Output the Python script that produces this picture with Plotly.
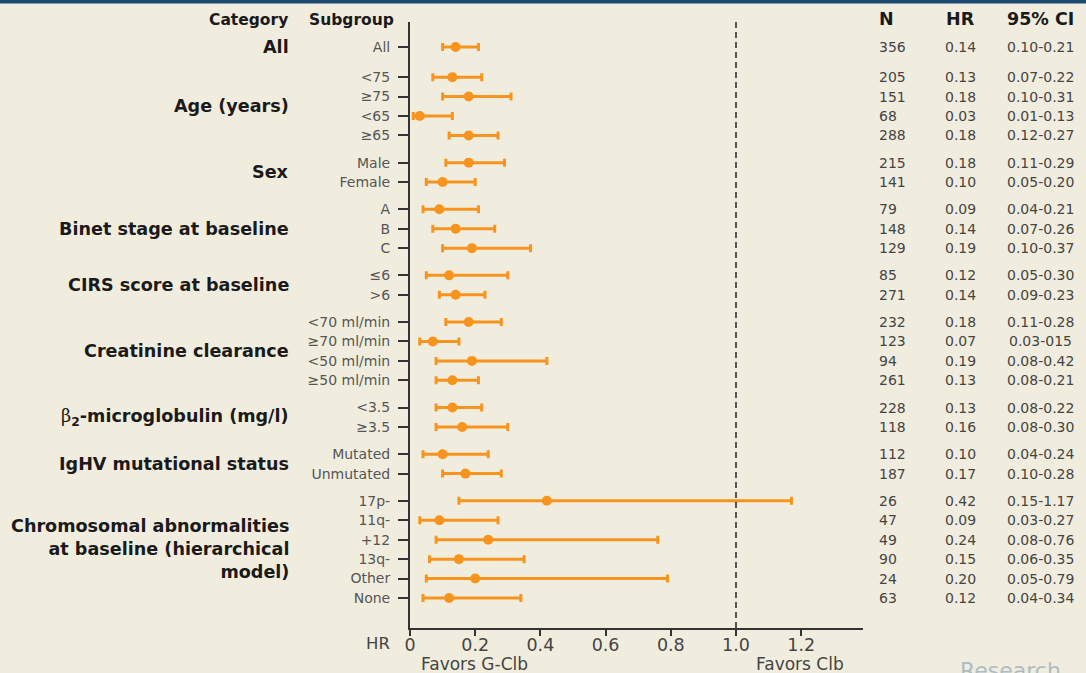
import plotly.graph_objects as go

# ---------------- data ----------------
categories = ["All", "Age (years)", "Sex", "Binet stage at baseline", "CIRS score at baseline",
              "Creatinine clearance", "β2-microglobulin (mg/l)", "IgHV mutational status",
              "Chromosomal abnormalities at baseline (hierarchical model)"]
category_labels = ["All", "Age (years)", "Sex", "Binet stage at baseline", "CIRS score at baseline",
                   "Creatinine clearance",
                   "<span style='font-family:DejaVu Serif;font-weight:normal'>β</span><sub>2</sub>-microglobulin (mg/l)",
                   "IgHV mutational status",
                   "Chromosomal abnormalities<br>at baseline (hierarchical<br>model)"]
group_sizes = [1, 4, 2, 3, 2, 4, 2, 2, 6]
subgroups = ["All",
             "<75", "≥75", "<65", "≥65",
             "Male", "Female",
             "A", "B", "C",
             "≤6", ">6",
             "<70 ml/min", "≥70 ml/min", "<50 ml/min", "≥50 ml/min",
             "<3.5", "≥3.5",
             "Mutated", "Unmutated",
             "17p-", "11q-", "+12", "13q-", "Other", "None"]
n_values = [356, 205, 151, 68, 288, 215, 141, 79, 148, 129, 85, 271,
            232, 123, 94, 261, 228, 118, 112, 187, 26, 47, 49, 90, 24, 63]
hr_values = [0.14, 0.13, 0.18, 0.03, 0.18, 0.18, 0.10, 0.09, 0.14, 0.19, 0.12, 0.14,
             0.18, 0.07, 0.19, 0.13, 0.13, 0.16, 0.10, 0.17, 0.42, 0.09, 0.24, 0.15, 0.20, 0.12]
ci_low = [0.10, 0.07, 0.10, 0.01, 0.12, 0.11, 0.05, 0.04, 0.07, 0.10, 0.05, 0.09,
          0.11, 0.03, 0.08, 0.08, 0.08, 0.08, 0.04, 0.10, 0.15, 0.03, 0.08, 0.06, 0.05, 0.04]
ci_high = [0.21, 0.22, 0.31, 0.13, 0.27, 0.29, 0.20, 0.21, 0.26, 0.37, 0.30, 0.23,
           0.28, 0.15, 0.42, 0.21, 0.22, 0.30, 0.24, 0.28, 1.17, 0.27, 0.76, 0.35, 0.79, 0.34]
ci_labels = ["0.10-0.21", "0.07-0.22", "0.10-0.31", "0.01-0.13", "0.12-0.27", "0.11-0.29",
             "0.05-0.20", "0.04-0.21", "0.07-0.26", "0.10-0.37", "0.05-0.30", "0.09-0.23",
             "0.11-0.28", "0.03-015", "0.08-0.42", "0.08-0.21", "0.08-0.22", "0.08-0.30",
             "0.04-0.24", "0.10-0.28", "0.15-1.17", "0.03-0.27", "0.08-0.76", "0.06-0.35",
             "0.05-0.79", "0.04-0.34"]
x_ticks = [0, 0.2, 0.4, 0.6, 0.8, 1.0, 1.2]
x_tick_labels = ["0", "0.2", "0.4", "0.6", "0.8", "1.0", "1.2"]

# ---------------- layout helpers ----------------
W, H = 1086, 673
L, R, T, B = 410, 223, 22, 45
PW, PH = W - L - R, H - T - B


def px(xp):
    return (xp - L) / PW


def py(yp):
    return (H - B - yp) / PH


# row positions (units of one row), with gaps between groups
rows = []
pos = 0.0
group_centers = []
for gi, size in enumerate(group_sizes):
    if gi == 1:
        pos += 0.55
    elif gi > 1:
        pos += 0.4
    start = pos
    for k in range(size):
        rows.append(pos)
        pos += 1
    group_centers.append((start + pos - 1) / 2)

unit = (598 - 47) / rows[-1]
y_top = (T - 47) / unit
y_bot = (H - B - 47) / unit

ORANGE = "#F7941E"
fig = go.Figure()
fig.add_trace(go.Scatter(
    x=hr_values, y=rows, mode="markers",
    marker=dict(color=ORANGE, size=10),
    error_x=dict(type="data", symmetric=False,
                 array=[h - m for h, m in zip(ci_high, hr_values)],
                 arrayminus=[m - l for m, l in zip(hr_values, ci_low)],
                 color=ORANGE, thickness=3, width=4),
    cliponaxis=False, showlegend=False, hoverinfo="skip"))

annotations = []
FONT = "DejaVu Sans"
# headers
annotations.append(dict(text="<b>Category</b>", x=px(290), y=py(20), xref="paper", yref="paper",
                        xanchor="right", yanchor="middle", showarrow=False,
                        font=dict(family=FONT, size=15.5, color="#1a1a1a")))
annotations.append(dict(text="<b>Subgroup</b>", x=px(307), y=py(20), xref="paper", yref="paper",
                        xanchor="left", yanchor="middle", showarrow=False,
                        font=dict(family=FONT, size=15.5, color="#1a1a1a")))
annotations.append(dict(text="<b>N</b>", x=px(877), y=py(19), xref="paper", yref="paper",
                        xanchor="left", yanchor="middle", showarrow=False,
                        font=dict(family=FONT, size=17.5, color="#1a1a1a")))
annotations.append(dict(text="<b>HR</b>", x=px(960), y=py(19), xref="paper", yref="paper",
                        xanchor="center", yanchor="middle", showarrow=False,
                        font=dict(family=FONT, size=17.5, color="#1a1a1a")))
annotations.append(dict(text="<b>95% CI</b>", x=px(1040), y=py(19), xref="paper", yref="paper",
                        xanchor="center", yanchor="middle", showarrow=False,
                        font=dict(family=FONT, size=17.5, color="#1a1a1a")))
# category labels
for lab, yc in zip(category_labels, group_centers):
    annotations.append(dict(text="<b>" + lab + "</b>", x=px(291), y=yc, xref="paper", yref="y",
                            xanchor="right", yanchor="middle", align="right", showarrow=False,
                            font=dict(family=FONT, size=17.6, color="#1a1a1a")))
# table
for yr, n, h, ci in zip(rows, n_values, hr_values, ci_labels):
    annotations.append(dict(text=str(n), x=px(877), y=yr, xref="paper", yref="y",
                            xanchor="left", yanchor="middle", showarrow=False,
                            font=dict(family=FONT, size=14, color="#444444")))
    annotations.append(dict(text=f"{h:.2f}", x=px(960), y=yr, xref="paper", yref="y",
                            xanchor="center", yanchor="middle", showarrow=False,
                            font=dict(family=FONT, size=14, color="#444444")))
    annotations.append(dict(text=ci, x=px(1040), y=yr, xref="paper", yref="y",
                            xanchor="center", yanchor="middle", showarrow=False,
                            font=dict(family=FONT, size=14, color="#444444")))
# axis labels
annotations.append(dict(text="HR", x=px(378), y=py(643), xref="paper", yref="paper",
                        xanchor="center", yanchor="middle", showarrow=False,
                        font=dict(family=FONT, size=16.5, color="#444444")))
annotations.append(dict(text="Favors G-Clb", x=px(419), y=py(664), xref="paper", yref="paper",
                        xanchor="left", yanchor="middle", showarrow=False,
                        font=dict(family=FONT, size=17, color="#444444")))
annotations.append(dict(text="Favors Clb", x=px(754), y=py(664), xref="paper", yref="paper",
                        xanchor="left", yanchor="middle", showarrow=False,
                        font=dict(family=FONT, size=17, color="#444444")))
annotations.append(dict(text="Research", x=px(958), y=py(656), xref="paper", yref="paper",
                        xanchor="left", yanchor="top", showarrow=False,
                        font=dict(family=FONT, size=22, color="#aebcc4")))

shapes = [
    dict(type="line", xref="x", yref="paper", x0=1, x1=1, y0=0, y1=1,
         line=dict(color="#555555", width=2, dash="6px,4px")),
    dict(type="rect", xref="paper", yref="paper", x0=px(-5), x1=px(W + 5), y0=py(3.5), y1=py(-5),
         fillcolor="#1d4a6e", line=dict(width=0)),
]

fig.update_layout(
    width=W, height=H,
    margin=dict(l=L, r=R, t=T, b=B, autoexpand=False),
    paper_bgcolor="#F1EDDE", plot_bgcolor="#F1EDDE",
    font=dict(family=FONT),
    annotations=annotations, shapes=shapes, showlegend=False,
    xaxis=dict(range=[0, PW / 326], tickvals=x_ticks, ticktext=x_tick_labels,
               showgrid=False, zeroline=False, showline=True, linecolor="#333333", linewidth=2,
               ticks="outside", ticklen=6, tickwidth=2, tickcolor="#333333",
               ticklabelstandoff=-6,
               tickfont=dict(family=FONT, size=17.5, color="#444444")),
    yaxis=dict(range=[y_bot, y_top], tickvals=rows, ticktext=subgroups,
               showgrid=False, zeroline=False, showline=True, linecolor="#333333", linewidth=2,
               ticks="outside", ticklen=10, tickwidth=2, tickcolor="#333333",
               ticklabelstandoff=5,
               tickfont=dict(family=FONT, size=14, color="#555555")),
)

fig.write_html("out.html", config={"displayModeBar": False},
               post_script="document.body.style.margin='0';document.body.style.overflow='hidden';")
